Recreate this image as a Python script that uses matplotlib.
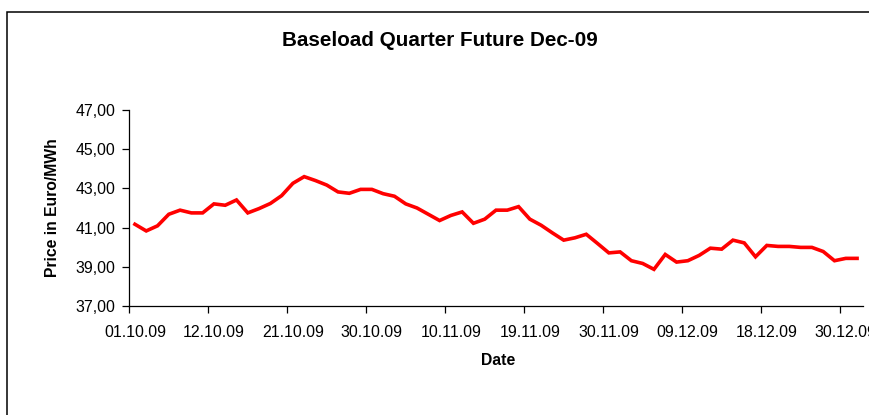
import numpy as np
import matplotlib
matplotlib.use("Agg")
import matplotlib.pyplot as plt
from matplotlib.patches import Rectangle
from matplotlib.ticker import FixedLocator, FuncFormatter

plt.rcParams['font.family'] = ['Liberation Sans', 'DejaVu Sans']

# Daily settlement prices, one per trading day 01.10.09 - 31.12.09
prices = [41.17, 40.83, 41.09, 41.68, 41.89, 41.75, 41.75, 42.21, 42.14, 42.41,
          41.75, 41.97, 42.23, 42.63, 43.26, 43.60, 43.40, 43.17, 42.82, 42.75,
          42.95, 42.95, 42.73, 42.60, 42.21, 42.00, 41.68, 41.36, 41.62, 41.80,
          41.22, 41.43, 41.89, 41.89, 42.07, 41.43, 41.12, 40.73, 40.36, 40.48,
          40.66, 40.19, 39.71, 39.76, 39.31, 39.17, 38.87, 39.63, 39.24, 39.31,
          39.58, 39.95, 39.90, 40.36, 40.22, 39.51, 40.09, 40.04, 40.04, 39.99,
          39.99, 39.78, 39.31, 39.43, 39.43]

# every 7th trading day is labelled
tick_labels = ["01.10.09", "12.10.09", "21.10.09", "30.10.09", "10.11.09",
               "19.11.09", "30.11.09", "09.12.09", "18.12.09", "30.12.09"]
label_step = 7

y_ticks = [37, 39, 41, 43, 45, 47]

W, H = 869, 415
fig = plt.figure(figsize=(W / 100, H / 100), dpi=100)
ax = fig.add_axes([129.3 / W, 1 - 306 / H, 733.4 / W, 196 / H])

x = np.arange(len(prices))
ax.plot(x, prices, color='#ff0000', lw=2.6, solid_joinstyle='miter')

ax.set_xlim(-0.5, len(prices) - 0.5)
ax.set_ylim(y_ticks[0], y_ticks[-1])

# labels sit in the middle of the category, tick marks on category borders
major = np.arange(len(tick_labels)) * label_step
ax.xaxis.set_major_locator(FixedLocator(major))
ax.set_xticklabels(tick_labels)
ax.xaxis.set_minor_locator(FixedLocator(major - 0.5))
ax.tick_params(axis='x', which='major', length=0, pad=13.5, labelsize=11.4)
ax.tick_params(axis='x', which='minor', length=5, width=0.9, direction='out')

ax.set_yticks(y_ticks)
ax.yaxis.set_major_formatter(FuncFormatter(lambda v, p: f"{v:.2f}".replace('.', ',')))
ax.tick_params(axis='y', length=5, width=0.9, direction='out', pad=5, labelsize=11.4)

for s in ['top', 'right']:
    ax.spines[s].set_visible(False)
for s in ['left', 'bottom']:
    ax.spines[s].set_linewidth(0.9)
    ax.spines[s].set_color('black')

fig.text(439.5 / W, 1 - 40 / H, "Baseload Quarter Future Dec-09",
         ha='center', va='center', fontsize=14.9, fontweight='bold')
fig.text(53 / W, 1 - 208 / H, "Price in Euro/MWh", rotation=90,
         ha='center', va='center', fontsize=11.3, fontweight='bold')
fig.text(498 / W, 1 - 360 / H, "Date",
         ha='center', va='center', fontsize=11.3, fontweight='bold')

# chart area border (cut off at right and bottom)
fig.patches.append(Rectangle((7.3 / W, -0.2), 1.2, 1.2 - 11.5 / H,
                             transform=fig.transFigure, fill=False,
                             edgecolor='black', lw=1.1))

fig.savefig("out.png", dpi=100)
